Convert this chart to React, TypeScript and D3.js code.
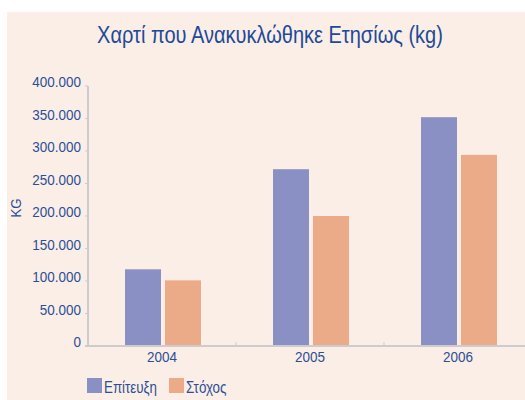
import React from "react";
import * as d3 from "d3";

const years = ["2004", "2005", "2006"];
const seriesNames = ["Επίτευξη", "Στόχος"];
const achieved = [118000, 272000, 352000];
const target = [101000, 200000, 294000];
const yTicks = [0, 50000, 100000, 150000, 200000, 250000, 300000, 350000, 400000];
const colors = ["#8a90c3", "#ebaa88"];

const W = 525;
const H = 400;
const FONT = "'Liberation Sans', Arial, sans-serif";
const TEXT = "#2a4f96";

function NarrowText(props: {
  x: number;
  y: number;
  sx: number;
  size: number;
  anchor?: string;
  fill: string;
  children: React.ReactNode;
}) {
  return (
    <g transform={`translate(${props.x},${props.y}) scale(${props.sx},1)`}>
      <text x={0} y={0} textAnchor={props.anchor || "start"} fontFamily={FONT} fontSize={props.size} fill={props.fill}>
        {props.children}
      </text>
    </g>
  );
}

export default function App() {
  const x0 = d3.scaleBand<string>().domain(years).range([88, 532]).paddingInner(0).paddingOuter(0);
  const x1 = d3.scaleBand<string>().domain(seriesNames).range([37, 113]).paddingInner(0.1);
  const y = d3.scaleLinear().domain([0, 400000]).range([346, 86]);
  const fmt = (v: number) => d3.format(",")(v).replace(/,/g, ".");
  const data = [achieved, target];
  const boundaries = years.map((yr) => x0(yr)! + x0.bandwidth()).filter((b) => b < W);

  return (
    <svg width={W} height={H} style={{ position: "absolute", left: 0, top: 0 }}>
      <rect x={0} y={0} width={W} height={H} fill="#ffffff" />
      <rect x={7} y={12} width={W - 7} height={H - 12} fill="#fbeee6" />
      <NarrowText x={270} y={43} sx={0.834} size={24} anchor="middle" fill="#1d4a98">
        Χαρτί που Ανακυκλώθηκε Ετησίως (kg)
      </NarrowText>
      {/* y axis */}
      <line x1={88} x2={88} y1={y(400000)} y2={y(0)} stroke="#cdcbcb" strokeWidth={2} />
      {yTicks.map((t) => (
        <g key={t}>
          <line x1={85} x2={88} y1={y(t)} y2={y(t)} stroke="#cdcbcb" strokeWidth={1} />
          <NarrowText x={81} y={y(t) + 1} sx={0.93} size={14.5} anchor="end" fill={TEXT}>
            {fmt(t)}
          </NarrowText>
        </g>
      ))}
      <g transform={`translate(21,208) rotate(-90)`}>
        <text textAnchor="middle" fontFamily={FONT} fontSize={14} fill={TEXT} transform="scale(0.95,1)">
          KG
        </text>
      </g>
      {/* bars */}
      {years.map((yr, i) => (
        <g key={yr} transform={`translate(${x0(yr)},0)`}>
          {seriesNames.map((s, j) => (
            <rect
              key={s}
              x={x1(s)}
              y={y(data[j][i])}
              width={x1.bandwidth()}
              height={y(0) - y(data[j][i])}
              fill={colors[j]}
            />
          ))}
          <NarrowText x={x0.bandwidth() / 2} y={362} sx={0.93} size={14.5} anchor="middle" fill={TEXT}>
            {yr}
          </NarrowText>
        </g>
      ))}
      {/* x axis */}
      <line x1={85} x2={W} y1={346} y2={346} stroke="#cdcbcb" strokeWidth={2} />
      {boundaries.map((b) => (
        <line key={b} x1={b} x2={b} y1={342} y2={346} stroke="#cdcbcb" strokeWidth={1} />
      ))}
      {/* legend */}
      {seriesNames.map((s, j) => (
        <g key={s} transform={`translate(${87 + j * 82},378)`}>
          <rect x={0} y={0} width={15} height={15} fill={colors[j]} />
          <NarrowText x={17} y={15} sx={0.81} size={16.5} fill={TEXT}>
            {s}
          </NarrowText>
        </g>
      ))}
    </svg>
  );
}
